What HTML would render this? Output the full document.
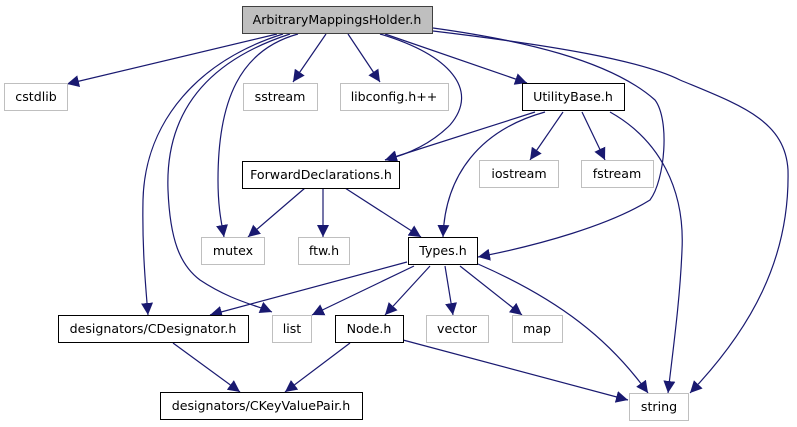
<!DOCTYPE html>
<html><head><style>body{margin:0;background:#fff}svg{display:block}text{font-family:"DejaVu Sans","Liberation Sans",sans-serif;font-size:12.6px;text-anchor:middle}</style></head><body>
<svg width="797" height="427" viewBox="0 0 797 427">
<defs><marker id="a" viewBox="0 0 10 10" refX="10" refY="5" markerWidth="12" markerHeight="12" markerUnits="userSpaceOnUse" orient="auto"><path d="M0,0L10,5L0,10z" fill="#191970"/></marker></defs>
<g fill="none" stroke="#191970" stroke-width="1.2" marker-end="url(#a)">
<path d="M277,34L67,84"/>
<path d="M283,34C200,60 145,120 143,200C142,250 146,290 148,315"/>
<path d="M290,34C210,60 165,110 168,190C170,240 180,265 200,280C230,300 255,305 272,312"/>
<path d="M298,34C240,50 218,100 218,180C218,210 222,225 224,237"/>
<path d="M326,34L293,82"/>
<path d="M348,34L380,82"/>
<path d="M380,34C450,55 480,90 450,125C430,145 405,155 385,160"/>
<path d="M385,34L527,83"/>
<path d="M433,28C520,40 610,60 655,100C670,120 665,180 650,200C610,225 540,245 478,257"/>
<path d="M433,31C550,45 640,60 680,80C740,105 785,120 788,170C790,260 750,330 690,393"/>
<path d="M535,112L385,160"/>
<path d="M545,112C480,130 445,175 443,237"/>
<path d="M563,112L530,160"/>
<path d="M582,112L605,160"/>
<path d="M610,112C660,140 685,190 682,250C680,300 673,350 668,393"/>
<path d="M305,188L248,237"/>
<path d="M323,188L323,237"/>
<path d="M345,188L421,237"/>
<path d="M407,262L210,315"/>
<path d="M414,266L312,315"/>
<path d="M430,266L385,315"/>
<path d="M445,266L453,315"/>
<path d="M460,266L522,315"/>
<path d="M478,264C560,300 610,340 648,393"/>
<path d="M173,343L240,392"/>
<path d="M350,343L285,392"/>
<path d="M403,340L628,400"/>
</g>
<g stroke-width="1" fill="#fff">
<rect x="242.5" y="6.5" width="190" height="27" fill="#bfbfbf" stroke="#404040"/>
<rect x="4.5" y="83.5" width="63" height="27" stroke="#bfbfbf"/>
<rect x="243.5" y="83.5" width="74" height="27" stroke="#bfbfbf"/>
<rect x="340.5" y="83.5" width="108" height="27" stroke="#bfbfbf"/>
<rect x="522.5" y="83.5" width="102" height="27" stroke="#000"/>
<rect x="242.5" y="161.5" width="157" height="27" stroke="#000"/>
<rect x="479.5" y="160.5" width="79" height="27" stroke="#bfbfbf"/>
<rect x="581.5" y="160.5" width="72" height="27" stroke="#bfbfbf"/>
<rect x="201.5" y="237.5" width="63" height="27" stroke="#bfbfbf"/>
<rect x="298.5" y="237.5" width="51" height="27" stroke="#bfbfbf"/>
<rect x="408.5" y="237.5" width="69" height="27" stroke="#000"/>
<rect x="58.5" y="315.5" width="190" height="27" stroke="#000"/>
<rect x="272.5" y="315.5" width="39" height="27" stroke="#bfbfbf"/>
<rect x="335.5" y="315.5" width="68" height="27" stroke="#000"/>
<rect x="426.5" y="315.5" width="62" height="27" stroke="#bfbfbf"/>
<rect x="512.5" y="315.5" width="50" height="27" stroke="#bfbfbf"/>
<rect x="160.5" y="392.5" width="202" height="27" stroke="#000"/>
<rect x="629.5" y="393.5" width="59" height="27" stroke="#bfbfbf"/>
</g>
<g fill="#000">
<text x="337" y="24">ArbitraryMappingsHolder.h</text>
<text x="36" y="101">cstdlib</text>
<text x="280" y="101">sstream</text>
<text x="394" y="101">libconfig.h++</text>
<text x="573" y="101">UtilityBase.h</text>
<text x="321" y="179">ForwardDeclarations.h</text>
<text x="519" y="178">iostream</text>
<text x="617" y="178">fstream</text>
<text x="233" y="255">mutex</text>
<text x="324" y="255">ftw.h</text>
<text x="443" y="255">Types.h</text>
<text x="153" y="333">designators/CDesignator.h</text>
<text x="292" y="333">list</text>
<text x="369" y="333">Node.h</text>
<text x="457" y="333">vector</text>
<text x="537" y="333">map</text>
<text x="261" y="410">designators/CKeyValuePair.h</text>
<text x="659" y="411">string</text>
</g>
</svg>
</body></html>
